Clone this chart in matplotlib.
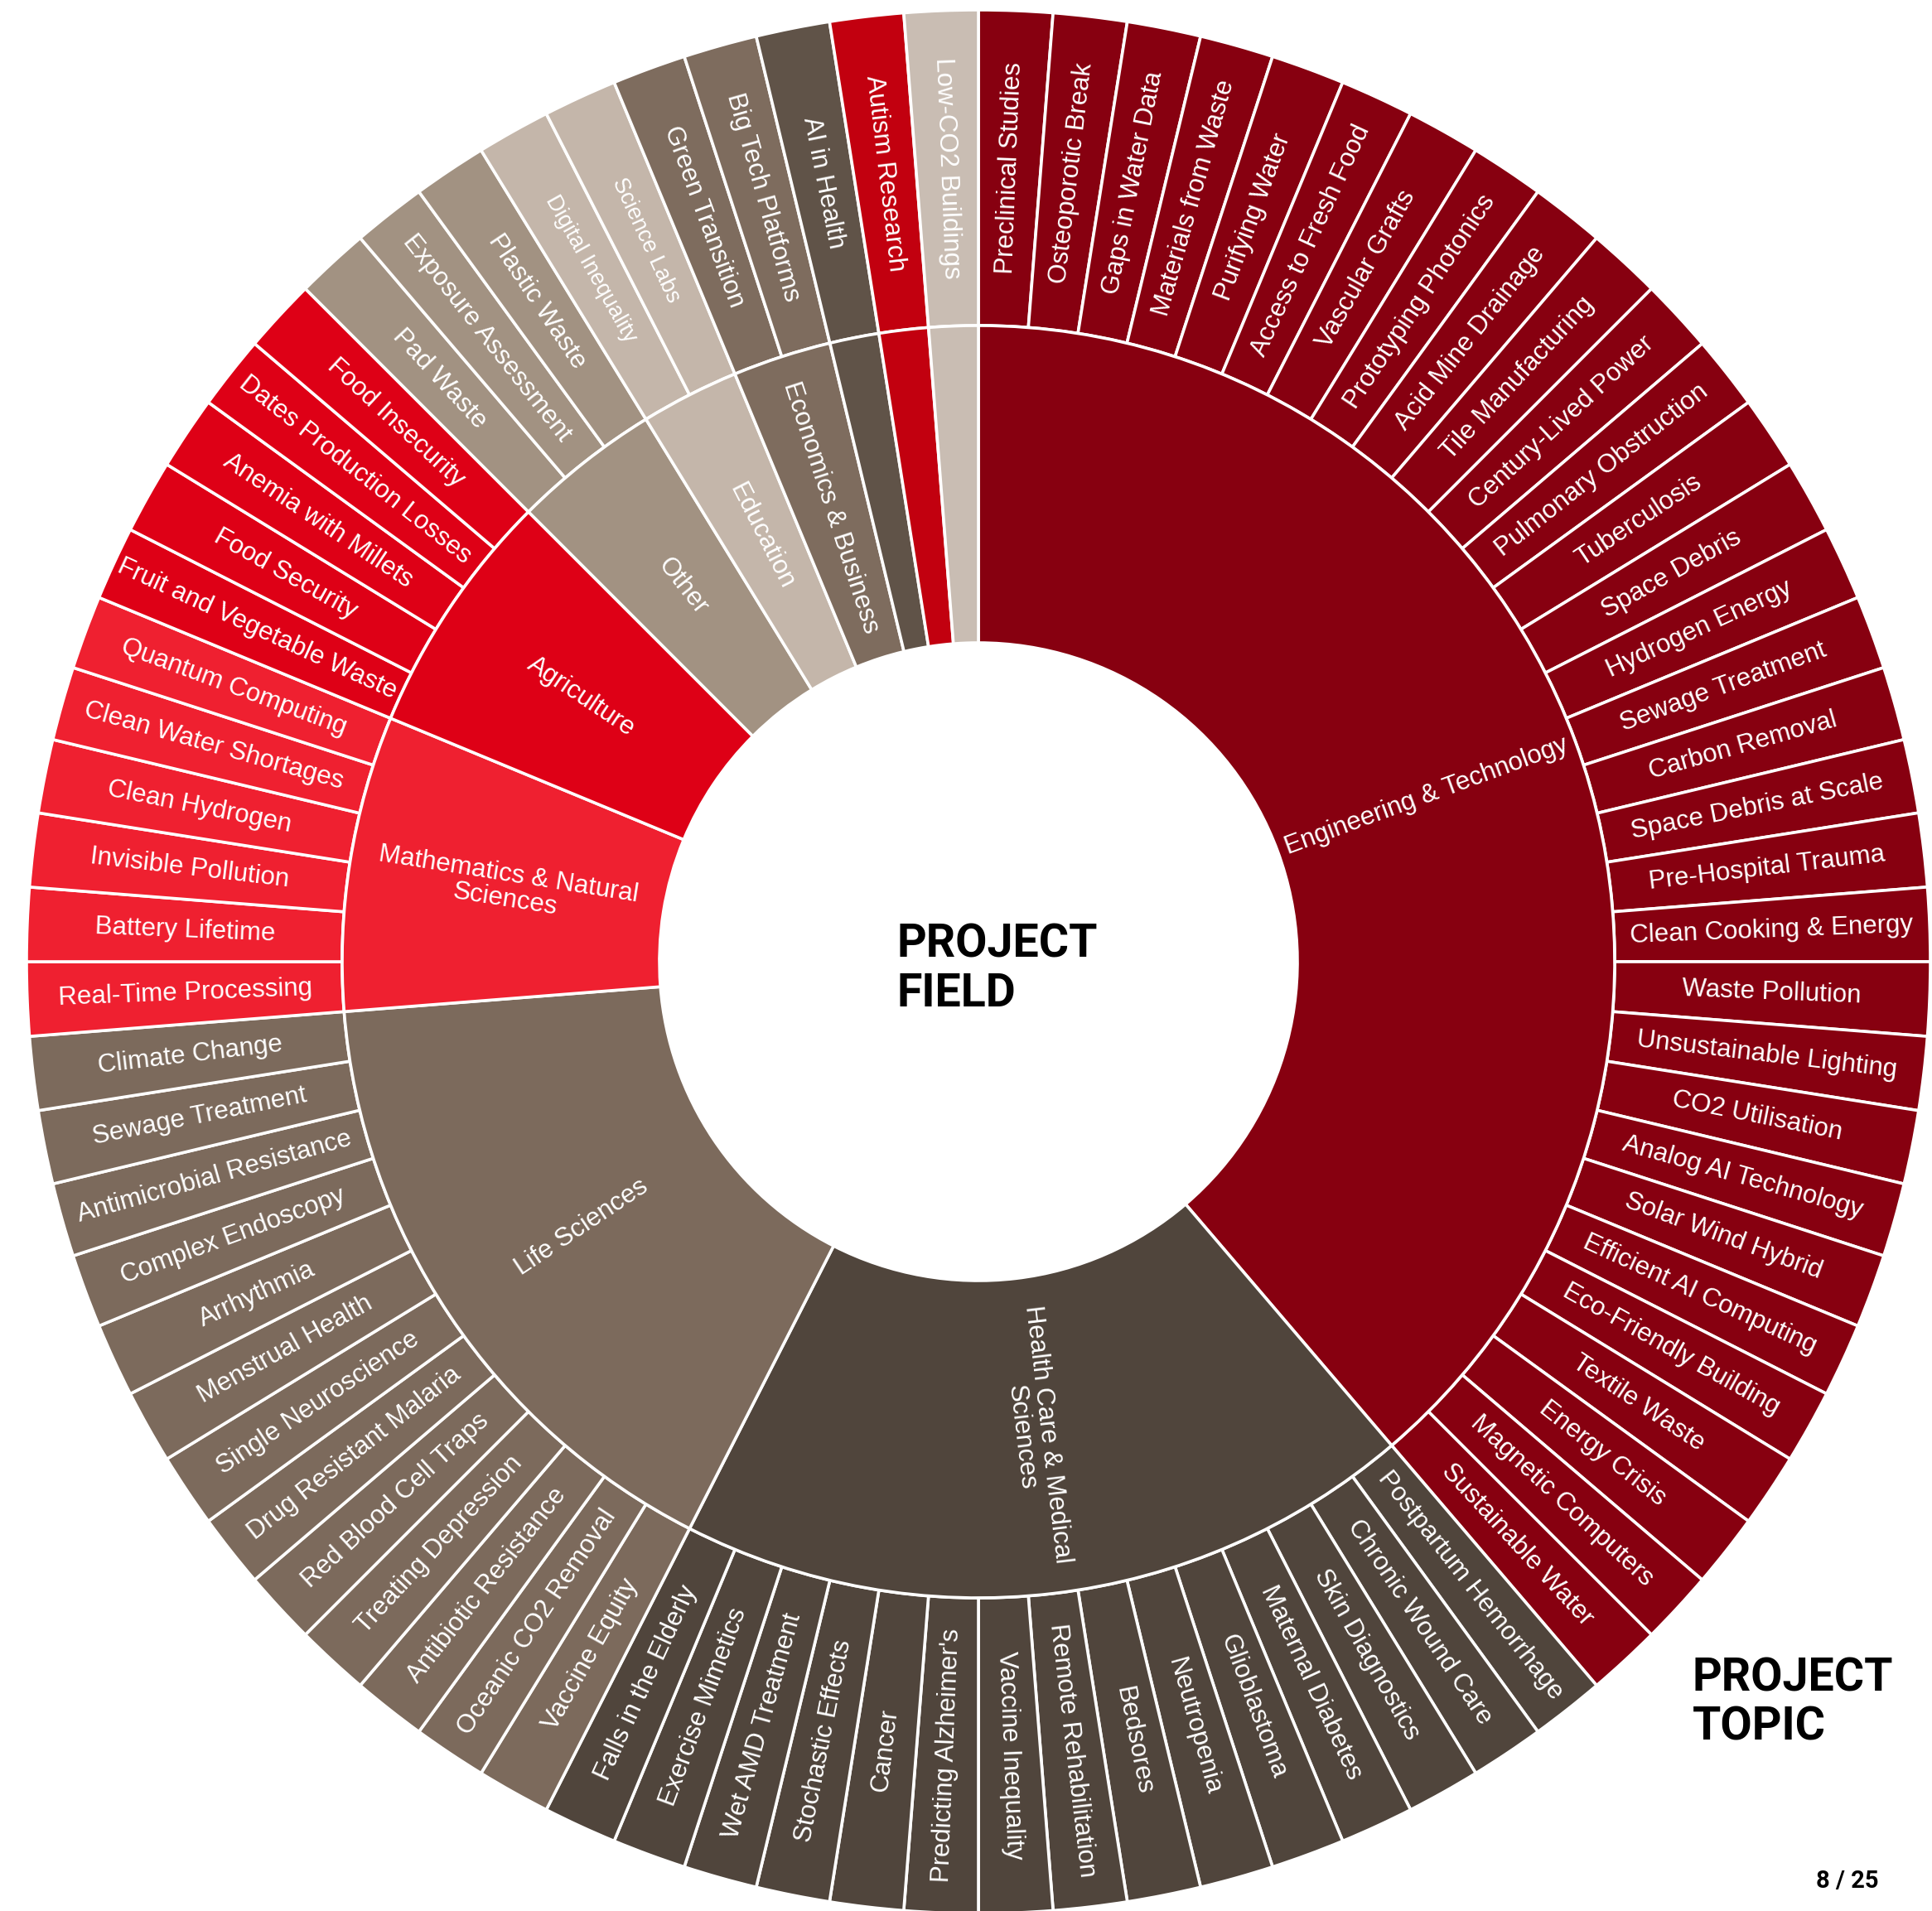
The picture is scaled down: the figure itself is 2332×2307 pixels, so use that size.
import numpy as np
import matplotlib
matplotlib.use("Agg")
import matplotlib.pyplot as plt

# ---------------- data ----------------
fields = ["Engineering & Technology", "Health Care & Medical\nSciences", "Life Sciences",
          "Mathematics & Natural\nSciences", "Agriculture", "Other", "Education",
          "Economics & Business", "", "", ""]

field_colors = ["#870010", "#50453C", "#7C6A5C", "#EF2030", "#DE0016", "#A29282",
                "#C4B6AA", "#7E6C5E", "#605348", "#C2000F", "#C9BDB3"]

eng_topics = ["Preclinical Studies", "Osteoporotic Break", "Gaps in Water Data", "Materials from Waste",
              "Purifying Water", "Access to Fresh Food", "Vascular Grafts", "Prototyping Photonics",
              "Acid Mine Drainage", "Tile Manufacturing", "Century-Lived Power", "Pulmonary Obstruction",
              "Tuberculosis", "Space Debris", "Hydrogen Energy", "Sewage Treatment", "Carbon Removal",
              "Space Debris at Scale", "Pre-Hospital Trauma", "Clean Cooking & Energy", "Waste Pollution",
              "Unsustainable Lighting", "CO2 Utilisation", "Analog AI Technology", "Solar Wind Hybrid",
              "Efficient AI Computing", "Eco-Friendly Building", "Textile Waste", "Energy Crisis",
              "Magnetic Computers", "Sustainable Water"]
health_topics = ["Postpartum Hemorrhage", "Chronic Wound Care", "Skin Diagnostics", "Maternal Diabetes",
                 "Glioblastoma", "Neutropenia", "Bedsores", "Remote Rehabilitation", "Vaccine Inequality",
                 "Predicting Alzheimer's", "Cancer", "Stochastic Effects", "Wet AMD Treatment",
                 "Exercise Mimetics", "Falls in the Elderly"]
life_topics = ["Vaccine Equity", "Oceanic CO2 Removal", "Antibiotic Resistance", "Treating Depression",
               "Red Blood Cell Traps", "Drug Resistant Malaria", "Single Neuroscience", "Menstrual Health",
               "Arrhythmia", "Complex Endoscopy", "Antimicrobial Resistance", "Sewage Treatment",
               "Climate Change"]
math_topics = ["Real-Time Processing", "Battery Lifetime", "Invisible Pollution", "Clean Hydrogen",
               "Clean Water Shortages", "Quantum Computing"]
agri_topics = ["Fruit and Vegetable Waste", "Food Security", "Anemia with Millets",
               "Dates Production Losses", "Food Insecurity"]
other_topics = ["Pad Waste", "Exposure Assessment", "Plastic Waste"]
edu_topics = ["Digital Inequality", "Science Labs"]
econ_topics = ["Green Transition", "Big Tech Platforms"]
f9_topics = ["AI in Health"]
f10_topics = ["Autism Research"]
f11_topics = ["Low-CO2 Buildings"]

topics_by_field = [eng_topics, health_topics, life_topics, math_topics, agri_topics, other_topics,
                   edu_topics, econ_topics, f9_topics, f10_topics, f11_topics]
small_text_topics = ["Digital Inequality", "Science Labs"]

# ---------------- derived ----------------
topics = [t for grp in topics_by_field for t in grp]
topic_values = [1] * len(topics)
topic_colors = [c for grp, c in zip(topics_by_field, field_colors) for _ in grp]
field_values = [len(g) for g in topics_by_field]

W, H = 2332, 2307
cx, cy = 1181, H - 1161
R_out, R_mid, R_in = 1149, 768, 385

fig = plt.figure(figsize=(W / 100, H / 100), dpi=100)
ax = fig.add_axes([0, 0, 1, 1])

wp = dict(edgecolor="white", linewidth=2.6)
ax.pie(topic_values, radius=R_out, center=(cx, cy), startangle=90, counterclock=False,
       colors=topic_colors, wedgeprops=dict(width=R_out - R_mid, **wp))
ax.pie(field_values, radius=R_mid, center=(cx, cy), startangle=90, counterclock=False,
       colors=field_colors, wedgeprops=dict(width=R_mid - R_in, **wp))

ax.set_xlim(0, W)
ax.set_ylim(0, H)
ax.set_aspect("equal")
ax.axis("off")

FONT = "Liberation Sans"


def radial_text(label, theta_deg, r, size):
    th = np.deg2rad(theta_deg)
    x = cx + r * np.sin(th)
    y = cy + r * np.cos(th)
    rot = 90 - theta_deg if theta_deg < 180 else 270 - theta_deg
    ax.text(x, y, label, rotation=rot, rotation_mode="anchor", ha="center", va="center",
            multialignment="center", color="white", fontsize=size, family=FONT, linespacing=1.05)


total = sum(topic_values)
cum = 0
for t, v in zip(topics, topic_values):
    mid = (cum + v / 2) / total * 360
    size = 19.5 if t in small_text_topics else 22.5
    radial_text(t, mid, (R_out + R_mid) / 2, size)
    cum += v

cum = 0
for f, v in zip(fields, field_values):
    mid = (cum + v / 2) / total * 360
    if f:
        radial_text(f, mid, (R_in + R_mid) / 2, 22.5)
    cum += v

TF = "Roboto"
ax.text(1083, H - 1114, "PROJECT\nFIELD", ha="left", va="top", fontsize=40, fontweight="bold",
        family=TF, color="black", linespacing=1.2)
ax.text(2043, H - 2000, "PROJECT\nTOPIC", ha="left", va="top", fontsize=40, fontweight="bold",
        family=TF, color="black", linespacing=1.18)
ax.text(2267, H - 2271, "8 / 25", ha="right", va="center", fontsize=21, fontweight="bold",
        family=TF, color="black")

fig.savefig("out.png", dpi=100)
